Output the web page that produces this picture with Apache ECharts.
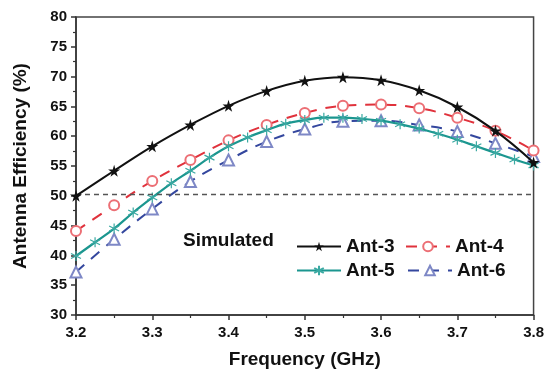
<!DOCTYPE html>
<html>
<head>
<meta charset="utf-8">
<script src="https://cdn.jsdelivr.net/npm/echarts@6/dist/echarts.min.js"></script>
<style>
html,body{margin:0;padding:0;background:#fff;}
#chart{width:547px;height:376px;}
</style>
</head>
<body>
<div id="chart"></div>
<script>
// Frequencies (GHz)
const freqCoarse = [3.2,3.25,3.3,3.35,3.4,3.45,3.5,3.55,3.6,3.65,3.7,3.75,3.8];
const freqFine = [3.2,3.225,3.25,3.275,3.3,3.325,3.35,3.375,3.4,3.425,3.45,3.475,3.5,3.525,3.55,3.575,3.6,3.625,3.65,3.675,3.7,3.725,3.75,3.775,3.8];
// Antenna efficiency (%)
const ant3 = [50.0,54.2,58.3,61.9,65.1,67.6,69.3,69.9,69.4,67.7,64.9,60.9,55.6];
const ant4 = [44.1,48.4,52.5,56.0,59.3,61.9,63.9,65.1,65.3,64.7,63.1,60.9,57.6];
const ant5 = [39.9,42.2,44.5,47.2,49.7,52.1,54.2,56.4,58.3,59.8,61.0,62.1,62.7,63.1,63.1,62.9,62.6,62.0,61.3,60.4,59.4,58.3,57.2,56.1,55.1];
const ant6 = [37.2,42.7,47.8,52.4,56.0,59.1,61.2,62.5,62.6,61.9,60.8,58.8,56.6];
const refLevel = 50.3;
const seriesNames = ['Ant-3','Ant-4','Ant-5','Ant-6'];
const legendTitle = 'Simulated';

const pair = (xs, ys) => xs.map((x, i) => [x, ys[i]]);
const FONT = '"Liberation Sans", Arial, sans-serif';
const star = 'path://M50,0 L61,35 L98,35 L68,57 L79,91 L50,70 L21,91 L32,57 L2,35 L39,35 Z';
const asterisk = 'path://M5,0 L5,10 M0.7,2.5 L9.3,7.5 M9.3,2.5 L0.7,7.5';

const chart = echarts.init(document.getElementById('chart'), null, {renderer:'canvas'});
const legendBase = {
  itemWidth: 44, itemHeight: 12, itemGap: 10,
  textStyle: {fontFamily: FONT, fontWeight: 'bold', fontSize: 19, color: '#111'},
  selectedMode: false
};
chart.setOption({
  animation: false,
  backgroundColor: '#fff',
  grid: {left: 76, right: 12, top: 17, bottom: 61, show: true, borderColor: '#444', borderWidth: 1.5, backgroundColor: 'transparent'},
  graphic: [{
    type: 'text', left: 183, top: 231,
    style: {text: legendTitle, font: 'bold 19px ' + FONT, fill: '#111'}
  }],
  legend: [
    Object.assign({}, legendBase, {data: [seriesNames[0]], left: 291, top: 232}),
    Object.assign({}, legendBase, {data: [seriesNames[1]], left: 400, top: 232}),
    Object.assign({}, legendBase, {data: [seriesNames[2]], left: 291, top: 256}),
    Object.assign({}, legendBase, {data: [seriesNames[3]], left: 402, top: 256})
  ],
  xAxis: {
    type: 'value', min: 3.2, max: 3.8, interval: 0.1,
    name: 'Frequency (GHz)', nameLocation: 'middle', nameGap: 35,
    nameTextStyle: {fontFamily: FONT, fontWeight: 'bold', fontSize: 19, color: '#111'},
    axisLine: {show: true, lineStyle: {color: '#333', width: 1.5}},
    axisTick: {show: true, length: 5, lineStyle: {color: '#333', width: 1.5}},
    minorTick: {show: true, splitNumber: 2, length: 3, lineStyle: {color: '#333', width: 1.2}},
    splitLine: {show: false},
    axisLabel: {fontFamily: FONT, fontWeight: 'bold', fontSize: 15, color: '#111', margin: 10,
      formatter: v => v.toFixed(1)}
  },
  yAxis: {
    type: 'value', min: 30, max: 80, interval: 5,
    name: 'Antenna Efficiency (%)', nameLocation: 'middle', nameGap: 46,
    nameTextStyle: {fontFamily: FONT, fontWeight: 'bold', fontSize: 19, color: '#111'},
    axisLine: {show: true, lineStyle: {color: '#333', width: 1.5}},
    axisTick: {show: true, length: 5, lineStyle: {color: '#333', width: 1.5}},
    minorTick: {show: true, splitNumber: 2, length: 3, lineStyle: {color: '#333', width: 1.2}},
    splitLine: {show: false},
    axisLabel: {fontFamily: FONT, fontWeight: 'bold', fontSize: 15, color: '#111', margin: 9}
  },
  series: [
    {
      name: seriesNames[0], type: 'line', smooth: 0.4, z: 5,
      data: pair(freqCoarse, ant3),
      symbol: star, symbolSize: 12,
      lineStyle: {color: '#111', width: 2},
      itemStyle: {color: '#111'},
      markLine: {
        silent: true, symbol: 'none', label: {show: false},
        lineStyle: {color: '#555', type: [5,4], width: 1.3},
        data: [{yAxis: refLevel}]
      }
    },
    {
      name: seriesNames[1], type: 'line', smooth: 0.4, z: 3,
      data: pair(freqCoarse, ant4),
      symbol: 'emptyCircle', symbolSize: 10,
      lineStyle: {color: '#e0323c', width: 2, type: [11,9]},
      itemStyle: {color: '#ec6f75', borderColor: '#ec6f75', borderWidth: 1.3}
    },
    {
      name: seriesNames[2], type: 'line', smooth: 0.4, z: 4,
      data: pair(freqFine, ant5),
      symbol: asterisk, symbolSize: 10,
      lineStyle: {color: '#1b968f', width: 2.2},
      itemStyle: {color: '#3aa9a2', borderColor: '#3aa9a2', borderWidth: 1.2}
    },
    {
      name: seriesNames[3], type: 'line', smooth: 0.4, z: 2,
      data: pair(freqCoarse, ant6),
      symbol: 'emptyTriangle', symbolSize: 11,
      lineStyle: {color: '#34479e', width: 2, type: [11,9]},
      itemStyle: {color: '#7e88c6', borderColor: '#7e88c6', borderWidth: 1.3}
    }
  ]
});
</script>
</body>
</html>
